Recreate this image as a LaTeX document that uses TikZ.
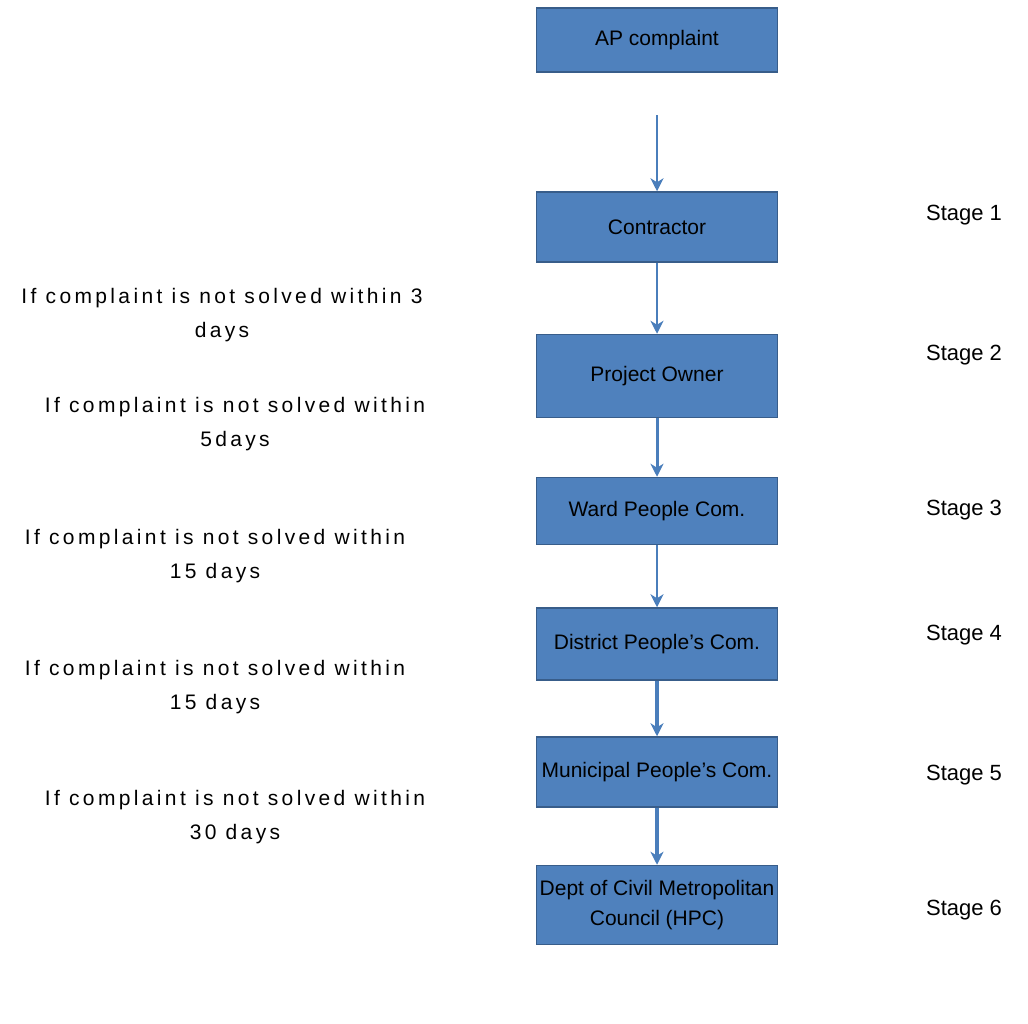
\documentclass[tikz,border=0pt]{standalone}
\usepackage{fontspec}
\setmainfont{Liberation Sans}
\usetikzlibrary{arrows.meta,positioning}
\definecolor{boxblue}{HTML}{4F81BD}
\definecolor{boxline}{HTML}{385D8A}
\definecolor{arrowblue}{HTML}{4A7EBB}
\newfontfamily\notefam[LetterSpace=16]{Liberation Sans}
\tikzset{>={Stealth[length=13pt,width=13pt,inset=4pt]}}
\tikzset{
  stagebox/.style={draw=boxline, fill=boxblue, line width=1.5pt, minimum width=241pt,
    inner sep=0pt, align=center, font=\fontsize{21}{30}\selectfont},
  flow/.style={->, draw=arrowblue, line width=2pt},
  note/.style={align=center, font=\fontsize{21}{34}\selectfont\notefam},
  stagelbl/.style={font=\fontsize{22}{26}\selectfont}
}

\begin{document}
\begin{tikzpicture}[x=1pt,y=-1pt]
        \useasboundingbox (0,0) rectangle (1028,1023);

        % boxes
        \node[stagebox, minimum height=64pt] (ap) at (657,40) {AP complaint};
        \node[stagebox, minimum height=70pt] (con) at (657,227) {Contractor};
        \node[stagebox, minimum height=83pt] (po) at (657,376) {Project Owner};
        \node[stagebox, minimum height=67pt] (ward) at (657,511) {Ward People Com.};
        \node[stagebox, minimum height=72pt] (dist) at (657,644) {District People's Com.};
        \node[stagebox, minimum height=70pt] (muni) at (657,772) {Municipal People's Com.};
        \node[stagebox, minimum height=79pt] (city) at (657,905) {Dept of Civil Metropolitan\\Council (HPC)};

        % arrows
        \coordinate (start) at (657,115);
        \draw[flow, line width=1.5pt] (start) -- (con.north);
        \draw[flow, line width=1.5pt] (con.south) -- (po.north);
        \draw[flow, line width=3pt] (po.south) -- (ward.north);
        \draw[flow, line width=2.5pt] (ward.south) -- (dist.north);
        \draw[flow, line width=3.5pt] (dist.south) -- (muni.north);
        \draw[flow, line width=4pt] (muni.south) -- (city.north);

        % conditions
        \node[note] (n1) at (222,315) {If complaint is not solved within 3\\days};
        \node[note] (n2) at (235,424) {If complaint is not solved within\\5days};
        \node[note] (n3) at (215,556) {If complaint is not solved within\\15 days};
        \node[note] (n4) at (215,687) {If complaint is not solved within\\15 days};
        \node[note] (n5) at (235,817) {If complaint is not solved within\\30 days};

        % stages
        \foreach \y/\s in {215/1,355/2,510/3,635/4,775/5,910/6}
        {
        \node[stagelbl] (s\s) at (964,\y) {Stage \s};
        }
\end{tikzpicture}
\end{document}
